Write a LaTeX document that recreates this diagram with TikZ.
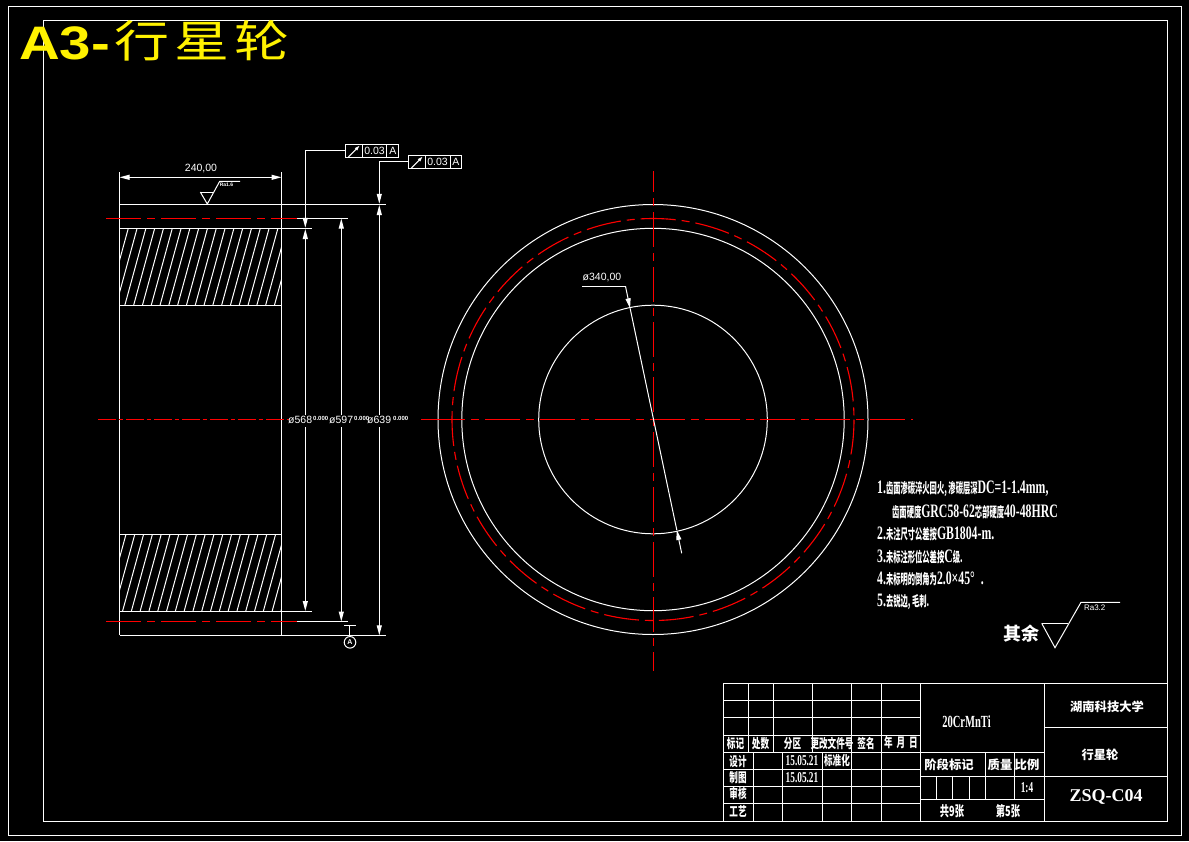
\documentclass[tikz,border=0pt]{standalone}
\usepackage{fontspec}
\usepackage{tikz}
\usetikzlibrary{arrows.meta}
\setmainfont[FakeStretch=0.62]{Liberation Serif}
\newfontfamily\latwide{Liberation Serif}
\newfontfamily\dimfont{Liberation Sans}
\newfontfamily\headfont[FakeStretch=1.2]{Liberation Sans}
\newfontfamily\hzwide{Noto Sans CJK SC}
\newfontfamily\hzhead[FakeStretch=1.25]{Noto Sans CJK SC}
\newfontfamily\hznarrow[FakeStretch=0.66]{Noto Sans CJK SC}
\newfontfamily\hzslim[FakeStretch=0.52]{Noto Sans CJK SC}
\newcommand{\hzs}[1]{{\hzslim\bfseries\fontsize{14}{16}\selectfont #1}}
\newcommand{\nt}[1]{{\bfseries\fontsize{19}{20}\selectfont #1}}
\newcommand{\hzn}[1]{{\hznarrow\bfseries\fontsize{13}{15}\selectfont #1}}
\newcommand{\hzw}[1]{{\hzwide\bfseries\fontsize{12.3}{15}\selectfont #1}}
\newcommand{\dimt}[1]{{\dimfont\fontsize{10.5}{12}\selectfont #1}}
\tikzset{
	ln/.style={white,line width=1pt},
	redln/.style={red,line width=1.1pt,dash pattern=on 35pt off 6pt on 8pt off 6pt},
	arr/.style={ln,-{Triangle[length=10pt,width=5pt]}},
	every node/.style={text=white,inner sep=0pt}
}
\begin{document}
\begin{tikzpicture}[x=1pt,y=-1pt]
	\useasboundingbox (0,0) rectangle (1189,841);
	\fill[black] (0,0) rectangle (1189,841);
	% frames
	\draw[ln] (8.5,6) rectangle (1181.7,835.3);
	\draw[ln] (43.5,20.3) rectangle (1167.3,821.3);
	\draw (19,59) node (headline) [anchor=base west,text=yellow] {\headfont\bfseries\fontsize{47}{50}\selectfont A3-\hspace{4pt}\raisebox{2pt}{\hzhead\mdseries\fontsize{44}{56}\selectfont 行\hspace{5pt}星\hspace{5pt}轮}};
	% left view
	\draw[ln] (119.5,172) -- (119.5,635.3);
	\draw[ln] (281.5,172) -- (281.5,635.3);
	\draw[ln] (119.5,204.3) -- (385.7,204.3);
	\draw[ln] (119.5,228.3) -- (311.5,228.3);
	\draw[ln] (119.5,305) -- (281.5,305);
	\draw[ln] (119.5,534.3) -- (281.5,534.3);
	\draw[ln] (119.5,611) -- (311.5,611);
	\draw[ln] (119.5,635.3) -- (385.7,635.3);
	\draw[ln] (297,218.5) -- (347.7,218.5);
	\draw[ln] (297,621.5) -- (347.7,621.5);
	\draw[redln] (106,218.5) -- (297,218.5);
	\draw[redln] (106,621.5) -- (297,621.5);
	\begin{scope}
		\clip (119.5,228.3) rectangle (281.5,305);
		\foreach \k in {-1,...,21}
			\draw[ln] (128.3+8.8*\k,228.3) -- (107.3+8.8*\k,305);
	\end{scope}
	\begin{scope}
		\clip (119.5,534.3) rectangle (281.5,611);
		\foreach \k in {-1,...,21}
			\draw[ln] (126+8.8*\k,534.3) -- (105+8.8*\k,611);
	\end{scope}
	\draw[red,line width=1.1pt,dash pattern=on 18pt off 2.5pt on 4.5pt off 3pt] (98,419.5) -- (289,419.5);
	% dimension 240
	\draw[arr] (160,177.3) -- (119.5,177.3);
	\draw[arr] (240,177.3) -- (281.5,177.3);
	\draw[ln] (160,177.3) -- (240,177.3);
	\draw (201,169) node (width) {\dimt{240,00}};
	% roughness on top
	\draw[ln] (200.3,192) -- (214,192);
	\draw[ln] (200.3,192) -- (207.3,204) -- (219.7,181.3) -- (240,181.3);
	\draw (226.5,184.5) node (roughtop) {\dimfont\bfseries\fontsize{5}{5}\selectfont Ra1.6};
	% vertical dimensions
	\draw[arr] (345.5,150.3) -- (305.3,150.3) -- (305.3,227.8);
	\draw[arr] (305.3,415) -- (305.3,229);
	\draw[arr] (305.3,427) -- (305.3,611);
	\draw[arr] (341.3,415) -- (341.3,218.5);
	\draw[arr] (341.3,427) -- (341.3,621.5);
	\draw[arr] (408.5,161.7) -- (379.3,161.7) -- (379.3,203.8);
	\draw[arr] (379.3,415) -- (379.3,205);
	\draw[arr] (379.3,427) -- (379.3,635.3);
	\draw (288,419.5) node (dia568) [anchor=west] {\dimt{ø568}};
	\draw (313,418) node (tol568) [anchor=west] {\dimfont\bfseries\fontsize{6}{6}\selectfont 0.000};
	\draw (329,419.5) node (dia597) [anchor=west] {\dimt{ø597}};
	\draw (354,418) node (tol597) [anchor=west] {\dimfont\bfseries\fontsize{6}{6}\selectfont 0.000};
	\draw (367,419.5) node (dia639) [anchor=west] {\dimt{ø639}};
	\draw (393,418) node (tol639) [anchor=west] {\dimfont\bfseries\fontsize{6}{6}\selectfont 0.000};
	% tolerance frames
	\foreach \fx/\fy/\fn/\fa/\fb/\fw in {345.5/144.3/a/17/41/53,408.5/155.3/b/17/42/53}{
		\draw[ln] (\fx,\fy) rectangle (\fx+\fw,\fy+13);
		\draw[ln] (\fx+\fa,\fy) -- (\fx+\fa,\fy+13);
		\draw[ln] (\fx+\fb,\fy) -- (\fx+\fb,\fy+13);
		\draw[ln,-{Triangle[length=5pt,width=3pt]}] (\fx+3,\fy+12.5) -- (\fx+14,\fy+1.5);
		\draw (\fx+29,\fy+6.7) node (val\fn) {\dimt{0.03}};
		\draw (\fx+47.3,\fy+6.7) node (dat\fn) {\dimt{A}};
	}
	% datum
	\draw[ln] (344,625.3) -- (356,625.3);
	\draw[ln] (349.5,625.3) -- (349.5,636.5);
	\draw[ln] (350,642.3) circle [radius=5.8];
	\draw (350,642.5) node (datum) {\dimfont\bfseries\fontsize{7}{7}\selectfont A};
	% right view
	\draw[ln] (653,419.5) circle [radius=215];
	\draw[ln] (653,419.5) circle [radius=191.2];
	\draw[ln] (653,419.5) circle [radius=114.3];
	\draw[redln] (653,419.5) circle [radius=201];
	\draw[red,line width=1.1pt] (421,419.5) -- (430,419.5);
	\draw[redln] (430,419.5) -- (912.7,419.5);
	\draw[redln,dash phase=14pt] (653.5,171) -- (653.5,671);
	% radius leader
	\draw[ln] (582,286.3) -- (625.5,286.3);
	\draw[arr] (625.5,286.3) -- (630.1,308.3);
	\draw[ln] (630.1,308.3) -- (676.8,530);
	\draw[arr] (681.7,553.3) -- (676.8,530);
	\draw (602,277.5) node (bore) {\dimt{ø340,00}};
	% notes
	\draw (877,489) node (note1) [anchor=west] {\nt{1.}\hzs{齿面渗碳淬火回火, 渗碳层深}\nt{DC=1-1.4mm,}};
	\draw (892,511.5) node (note2) [anchor=west] {\hzs{齿面硬度}\nt{GRC58-62}\hzs{芯部硬度}\nt{40-48HRC}};
	\draw (877,534) node (note3) [anchor=west] {\nt{2.}\hzs{未注尺寸公差按}\nt{GB1804-m.}};
	\draw (877,556.5) node (note4) [anchor=west] {\nt{3.}\hzs{未标注形位公差按}\nt{C}\hzs{级.}};
	\draw (877,579) node (note5) [anchor=west] {\nt{4.}\hzs{未标明的倒角为}\nt{2.0×45°\ \ .}};
	\draw (877,601.5) node (note6) [anchor=west] {\nt{5.}\hzs{去锐边, 毛刺.}};
	\draw (1021,634) node (rest) {\hzwide\bfseries\fontsize{18}{20}\selectfont 其余};
	\draw[ln] (1041.7,623.3) -- (1068,623.3);
	\draw[ln] (1041.7,623.3) -- (1055,647.7) -- (1081,602.3) -- (1120,602.3);
	\draw (1094.7,607.3) node (roughrest) {\dimfont\fontsize{8}{8}\selectfont Ra3.2};
	% title block
	\draw[ln] (723.5,683.5) rectangle (1167.3,821.3);
	\foreach \ry in {700.3,717.3,735,752.3}
		\draw[ln] (723.5,\ry) -- (920.5,\ry);
	\foreach \ry in {769.3,786.3,803.3}
		\draw[ln] (723.5,\ry) -- (920.5,\ry);
	\foreach \cx in {748.3,773.3,812.3}
		\draw[ln] (\cx,683.5) -- (\cx,752.3);
	\foreach \cx in {753.3,782.3,822.3}
		\draw[ln] (\cx,752.3) -- (\cx,821.3);
	\foreach \cx in {851.3,881.3,920.5,1044.3}
		\draw[ln] (\cx,683.5) -- (\cx,821.3);
	\draw[ln] (920.5,752.3) -- (1044.3,752.3);
	\draw[ln] (920.5,776.3) -- (1167.3,776.3);
	\draw[ln] (920.5,799.3) -- (1044.3,799.3);
	\draw[ln] (1044.3,727.3) -- (1167.3,727.3);
	\draw[ln] (985.3,752.3) -- (985.3,799.3);
	\draw[ln] (1014.7,752.3) -- (1014.7,799.3);
	\foreach \cx in {936.7,952.7,969.3}
		\draw[ln] (\cx,776.3) -- (\cx,799.3);
	\draw (735.5,743.5) node (biaoji) {\hzn{标记}};
	\draw (760.5,743.5) node (chushu) {\hzn{处数}};
	\draw (792.5,743.5) node (fenqu) {\hzn{分区}};
	\draw (832,743.5) node (gengai) {\hzn{更改文件号}};
	\draw (866,743.5) node (qianming) {\hzn{签名}};
	\draw (901,743) node (nianyue) {\hzn{年\ \ 月\ \ 日}};
	\draw (738,761.5) node (sheji) {\hzn{设计}};
	\draw (802,761) node (date1) {\bfseries\fontsize{15}{15}\selectfont 15.05.21};
	\draw (837,761) node (biaozhun) {\hzn{标准化}};
	\draw (738,778) node (zhitu) {\hzn{制图}};
	\draw (802,778) node (date2) {\bfseries\fontsize{15}{15}\selectfont 15.05.21};
	\draw (738,793.5) node (shenhe) {\hzn{审核}};
	\draw (738,811.5) node (gongyi) {\hzn{工艺}};
	\draw (966.5,722) node (material) {\bfseries\fontsize{17}{17}\selectfont 20CrMnTi};
	\draw (1107,707) node (school) {\hzw{湖南科技大学}};
	\draw (1100,755) node (part) {\hzw{行星轮}};
	\draw (1106,797) node (drawno) {\latwide\bfseries\fontsize{18}{18}\selectfont ZSQ-C04};
	\draw (949,764.5) node (jieduan) {\hzw{阶段标记}};
	\draw (1000,764.5) node (zhiliang) {\hzw{质量}};
	\draw (1027,764.5) node (bili) {\hzw{比例}};
	\draw (1027,788) node (scale) {\bfseries\fontsize{15}{15}\selectfont 1:4};
	\draw (952,811) node (total) {\hznarrow\bfseries\fontsize{14}{15}\selectfont 共9张};
	\draw (1008,811) node (sheet) {\hznarrow\bfseries\fontsize{14}{15}\selectfont 第5张};
\end{tikzpicture}
\end{document}
